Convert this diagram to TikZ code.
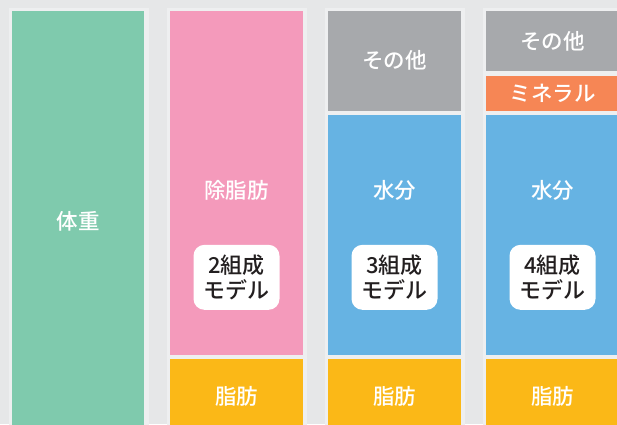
\documentclass[tikz,border=0pt]{standalone}
\usepackage{fontspec}
\newfontfamily\jp{Noto Sans CJK JP Medium}
\usetikzlibrary{positioning}

\definecolor{bgGray}{HTML}{E6E7E8}
\definecolor{panelGray}{HTML}{EEEFF0}
\definecolor{bodyGreen}{HTML}{7FCAAD}
\definecolor{leanPink}{HTML}{F49ABB}
\definecolor{otherGray}{HTML}{A7A9AC}
\definecolor{waterBlue}{HTML}{66B3E3}
\definecolor{fatYellow}{HTML}{FBB817}
\definecolor{mineralOrange}{HTML}{F68655}
\definecolor{textDark}{HTML}{231F20}

\tikzset{
  seg/.style={rectangle, inner sep=0pt, outer sep=0pt, minimum width=133pt, anchor=north west},
  panel/.style={fill=panelGray, draw=none},
  lbl/.style={text=white, font=\jp\fontsize{21.5}{26}\selectfont},
  modelbox/.style={fill=white, rounded corners=11pt, text=textDark, align=center,
    minimum width=86pt, minimum height=65pt, inner sep=0pt,
    font=\jp\fontsize{22}{25}\selectfont}
}

\begin{document}
\begin{tikzpicture}[x=1pt, y=-1pt]
\fill[bgGray] (0,0) rectangle (617,424);
\useasboundingbox (0,0) rectangle (617,424);
\clip (0,0) rectangle (617,424);

% Panels %
\foreach \px in {8.5, 166.5, 324.5, 482.5}
  \fill[panel] (\px,7.5) rectangle ++(140,430);

% Column 1: body weight %
\node[seg, fill=bodyGreen, minimum width=132pt, minimum height=421pt] (body) at (12,10.7) {};
\node[lbl] (bodyLbl) at (body.center) {体重};

% Column 2: two-component model %
\node[seg, fill=leanPink, minimum height=344pt] (lean2) at (170,10.7) {};
\node[seg, fill=fatYellow, minimum height=74pt, below=4.3pt of lean2.south west, anchor=north west] (fat2) {};
\node[lbl] (lean2Lbl) at (236.5,190) {除脂肪};
\node[modelbox] (model2) at (236.5,277.3) {2組成\\モデル};
\node[lbl] (fat2Lbl) at (fat2.center) {脂肪};

% Column 3: three-component model %
\node[seg, fill=otherGray, minimum height=100pt] (other3) at (328,10.7) {};
\node[seg, fill=waterBlue, minimum height=239.4pt, below=4.6pt of other3.south west, anchor=north west] (water3) {};
\node[seg, fill=fatYellow, minimum height=74pt, below=4.3pt of water3.south west, anchor=north west] (fat3) {};
\node[lbl] (other3Lbl) at (other3.center) {その他};
\node[lbl] (water3Lbl) at (394.5,190.5) {水分};
\node[modelbox] (model3) at (394.5,277.3) {3組成\\モデル};
\node[lbl] (fat3Lbl) at (fat3.center) {脂肪};

% Column 4: four-component model %
\node[seg, fill=otherGray, minimum height=60.6pt] (other4) at (486,10.7) {};
\node[seg, fill=mineralOrange, minimum height=35pt, below=4.4pt of other4.south west, anchor=north west] (mineral4) {};
\node[seg, fill=waterBlue, minimum height=239.4pt, below=4.6pt of mineral4.south west, anchor=north west] (water4) {};
\node[seg, fill=fatYellow, minimum height=74pt, below=4.3pt of water4.south west, anchor=north west] (fat4) {};
\node[lbl] (other4Lbl) at (other4.center) {その他};
\node[lbl] (mineral4Lbl) at (mineral4.center) {ミネラル};
\node[lbl] (water4Lbl) at (552.5,190.5) {水分};
\node[modelbox] (model4) at (552.5,277.3) {4組成\\モデル};
\node[lbl] (fat4Lbl) at (fat4.center) {脂肪};

\end{tikzpicture}
\end{document}
